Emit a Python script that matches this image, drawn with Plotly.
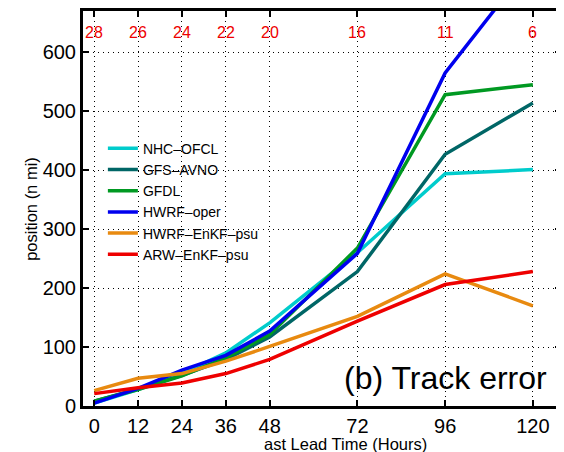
import plotly.graph_objects as go

# ---- data ----
lead_hours = [0, 12, 24, 36, 48, 72, 96, 120]
sample_counts = [28, 26, 24, 22, 20, 16, 11, 6]

nhc_ofcl = [5, 28, 55, 90, 141, 260, 394, 401]
gfs_avno = [8, 29, 52, 79, 117, 228, 427, 514]
gfdl = [8, 28, 51, 82, 121, 268, 528, 545]
hwrf_oper = [5, 30, 61, 86, 127, 259, 565, 755]
hwrf_enkf_psu = [26, 47, 55, 76, 101, 152, 224, 170]
arw_enkf_psu = [21, 31, 39, 55, 79, 144, 206, 228]

series_names = ["NHC–OFCL", "GFS–AVNO", "GFDL", "HWRF–oper", "HWRF–EnKF–psu", "ARW–EnKF–psu"]
series_values = [nhc_ofcl, gfs_avno, gfdl, hwrf_oper, hwrf_enkf_psu, arw_enkf_psu]
series_colors = ["#00CCCC", "#006666", "#009922", "#0000EE", "#E88A10", "#EE0000"]

y_ticks = [0, 100, 200, 300, 400, 500, 600]
x_title = "ast Lead Time (Hours)"
y_title = "position (n mi)"
panel_label = "(b) Track error"
count_label_y = 634

FONT = "Liberation Sans, Arial, Helvetica, sans-serif"

# page has an 8px body margin; figure is sized to fill the rest of the window
W, H = 556, 444
L, R, T, B = 75, 0, 2, 46
OFF = 8


def px_x(p):  # page pixel -> paper x
    return (p - OFF - L) / (W - L - R)


def px_y(p):  # page pixel -> paper y
    return 1 - (p - OFF - T) / (H - T - B)


fig = go.Figure()
for name, vals, col in zip(series_names, series_values, series_colors):
    fig.add_trace(go.Scatter(
        x=lead_hours, y=vals, mode="lines", name=name,
        line=dict(color=col, width=3.5),
    ))

# sample counts along the top
for h, c in zip(lead_hours, sample_counts):
    fig.add_annotation(x=h, y=count_label_y, xref="x", yref="y", text=str(c),
                       showarrow=False, font=dict(family=FONT, size=16, color="#EE0000"))

fig.add_annotation(x=px_x(552), y=px_y(378), xref="paper", yref="paper", text=panel_label,
                   showarrow=False, xanchor="right", yanchor="middle",
                   font=dict(family=FONT, size=32, color="black"))

fig.add_annotation(x=px_x(347), y=px_y(444), xref="paper", yref="paper", text=x_title,
                   showarrow=False, xanchor="center", yanchor="middle",
                   font=dict(family=FONT, size=16.5, color="black"))
fig.add_annotation(x=px_x(30), y=px_y(208), xref="paper", yref="paper", text=y_title,
                   showarrow=False, textangle=-90, xanchor="center", yanchor="middle",
                   font=dict(family=FONT, size=16.5, color="black"))

axis_common = dict(
    showline=True, linecolor="black", linewidth=3, mirror="ticks",
    ticks="inside", ticklen=6, tickwidth=1.5, tickcolor="black",
    showgrid=True, gridcolor="black", gridwidth=1, griddash="1px,4px",
    zeroline=False,
    tickfont=dict(family=FONT, size=20, color="black"),
)

fig.update_layout(
    width=W, height=H,
    margin=dict(l=L, r=R, t=T, b=B, pad=0),
    paper_bgcolor="white", plot_bgcolor="white",
    showlegend=True,
    legend=dict(
        x=px_x(103), y=px_y(132), xanchor="left", yanchor="top",
        bgcolor="rgba(0,0,0,0)", borderwidth=0,
        font=dict(family=FONT, size=14, color="black"),
        tracegroupgap=0, itemwidth=30,
    ),
    xaxis=dict(range=[-3.07, 127.7], tickvals=lead_hours, **axis_common),
    yaxis=dict(range=[0, 670], tickvals=y_ticks, **axis_common),
)

fig.write_html("out.html")
